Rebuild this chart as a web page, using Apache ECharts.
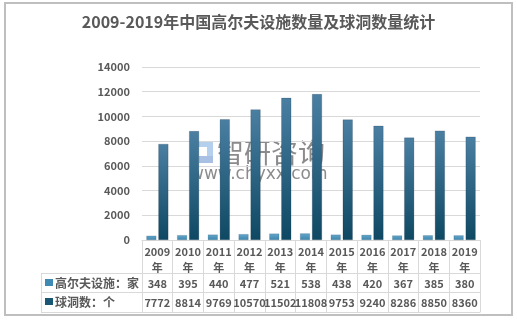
<!DOCTYPE html>
<html><head><meta charset="utf-8">
<script src="https://cdn.jsdelivr.net/npm/echarts@6/dist/echarts.min.js"></script>
<style>html,body{margin:0;padding:0;background:#fff}#c{width:517px;height:322px}</style>
</head><body><div id="c"></div>
<script>
const years = ['2009','2010','2011','2012','2013','2014','2015','2016','2017','2018','2019'];
const facilities = [348,395,440,477,521,538,438,420,367,385,380];
const holes = [7772,8814,9769,10570,11502,11808,9753,9240,8286,8850,8360];
const seriesNames = ['高尔夫设施：家','球洞数：个'];
const titleText = '2009-2019年中国高尔夫设施数量及球洞数量统计';

const FONT = '"Noto Sans CJK SC","Liberation Sans",sans-serif';
const txt = '#595959';
const lineC = '#d9d9d9';
const lightGrad = {type:'linear',x:0,y:0,x2:0,y2:1,colorStops:[{offset:0,color:'#64a6cb'},{offset:1,color:'#3d86ad'}]};
const darkGrad = {type:'linear',x:0,y:0,x2:0,y2:1,colorStops:[{offset:0,color:'#4a7fa2'},{offset:1,color:'#0e4862'}]};

const chart = echarts.init(document.getElementById('c'), null, {renderer:'canvas'});
const rowAxis = (data, offset, tickLen, margin, showLabel) => ({
  type:'category', gridIndex:0, position:'bottom', offset:offset, data:data,
  axisLine:{show:true,lineStyle:{color:lineC,width:1}},
  axisTick:{show:true,length:tickLen,lineStyle:{color:lineC}},
  axisLabel:{show:showLabel,margin:margin,color:txt,fontSize:11,fontWeight:'bold',fontFamily:FONT,interval:0},
  splitLine:{show:false}
});
chart.setOption({
  animation:false,
  backgroundColor:'#fff',
  title:{text:titleText,left:'center',top:9,textStyle:{fontSize:16,fontWeight:'bold',color:txt,fontFamily:FONT}},
  grid:{left:142,right:37,top:67,bottom:82,containLabel:false},
  yAxis:{type:'value',min:0,max:14000,interval:2000,
    axisLine:{show:false},axisTick:{show:false},
    axisLabel:{color:txt,fontSize:11,fontWeight:'bold',fontFamily:FONT,margin:12,formatter:v=>String(v)},
    splitLine:{lineStyle:{color:lineC}}},
  xAxis:[
    Object.assign(rowAxis(years.map(y=>y+'\n年'),0,33,3,true),{axisLabel:{interval:0,margin:4,color:txt,fontSize:11,fontWeight:'bold',fontFamily:FONT,lineHeight:16}}),
    rowAxis(facilities.map(String),33,19,5,true),
    rowAxis(holes.map(String),52,20,5,true),
    rowAxis(years.map(()=>''),72,0,0,false)
  ],
  series:[
    {name:seriesNames[0],type:'bar',xAxisIndex:0,data:facilities,barWidth:10,barGap:'20%',
     itemStyle:{color:lightGrad,borderColor:'rgba(30,60,80,0.35)',borderWidth:0.5}},
    {name:seriesNames[1],type:'bar',xAxisIndex:0,data:holes,barWidth:10,barGap:'20%',
     itemStyle:{color:darkGrad,borderColor:'rgba(20,40,60,0.4)',borderWidth:0.5}}
  ],
  graphic:[
    {type:'rect',shape:{x:5,y:3,width:507,height:312},style:{fill:'none',stroke:'#bfbfbf',lineWidth:2},silent:true},
    {type:'line',shape:{x1:41,y1:273.5,x2:142,y2:273.5},style:{stroke:lineC,lineWidth:1}},
    {type:'line',shape:{x1:41,y1:292.5,x2:142,y2:292.5},style:{stroke:lineC,lineWidth:1}},
    {type:'line',shape:{x1:41,y1:312.5,x2:142,y2:312.5},style:{stroke:lineC,lineWidth:1}},
    {type:'line',shape:{x1:41.5,y1:273,x2:41.5,y2:313},style:{stroke:lineC,lineWidth:1}},
    {type:'rect',shape:{x:45,y:279,width:8,height:7},style:{fill:'#3f8ab2'}},
    {type:'rect',shape:{x:45,y:298,width:8,height:7},style:{fill:'#1a5775'}},
    {type:'text',x:55,y:283,style:{text:seriesNames[0],fill:txt,font:'bold 12px '+FONT,textVerticalAlign:'middle'}},
    {type:'text',x:55,y:302,style:{text:seriesNames[1],fill:txt,font:'bold 12px '+FONT,textVerticalAlign:'middle'}},
    {type:'group',z:100,children:[
      {type:'rect',shape:{x:190,y:141,width:6,height:22},style:{fill:'rgba(60,110,180,0.55)'}},
      {type:'rect',shape:{x:196,y:141,width:17,height:6},style:{fill:'rgba(120,170,220,0.55)'}},
      {type:'rect',shape:{x:207,y:147,width:6,height:9},style:{fill:'rgba(120,170,220,0.55)'}},
      {type:'rect',shape:{x:199,y:156,width:14,height:7},style:{fill:'rgba(80,130,200,0.5)'}},
      {type:'text',x:217,y:153,style:{text:'智研咨询',fill:'rgba(100,100,100,0.75)',font:'27px '+FONT,textVerticalAlign:'middle'}},
      {type:'text',x:190,y:175,style:{text:'www.chyxx.com',fill:'rgba(100,100,100,0.75)',font:'17px "DejaVu Sans",sans-serif',textVerticalAlign:'middle'}}
    ]}
  ]
});
</script></body></html>
